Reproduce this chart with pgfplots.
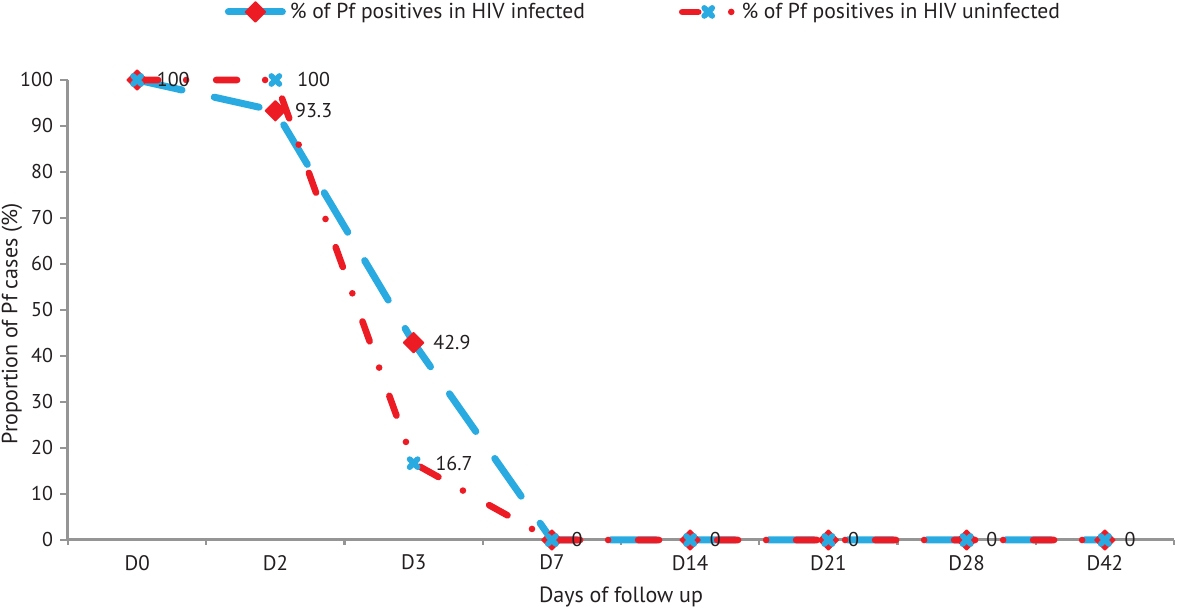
\documentclass[border=0pt]{standalone}
\usepackage{pgfplots}
\pgfplotsset{compat=1.18}
\usepackage{fontspec}
\setmainfont{PT Sans}

\definecolor{hivcyan}{HTML}{29ABE2}
\definecolor{hivred}{HTML}{ED1C24}
\definecolor{axgray}{HTML}{959595}
\definecolor{txt}{HTML}{231F20}

\newcommand{\chartfont}{\fontsize{10}{12}\selectfont}
\newcommand{\labelfont}{\fontsize{11}{13}\selectfont}
\newcommand{\legendfont}{\fontsize{10.8}{13}\selectfont}

% legend images: solid line for the first series, dash-dot for the second
\pgfplotsset{
  leg solid/.style={legend image code/.code={
      \draw[mark repeat=2, mark phase=2, ##1, solid]
        plot coordinates {(0pt,0pt) (13.5pt,0pt) (27pt,0pt)};}},
  leg dashed/.style={legend image code/.code={
      \draw[mark repeat=2, mark phase=2, ##1,
            dash pattern=on 8pt off 16.5pt on 0pt off 10pt]
        plot coordinates {(0pt,0pt) (13pt,0pt) (26pt,0pt)};}},
}

\begin{document}
\begin{tikzpicture}
\begin{axis}[
    at={(0pt,0pt)}, anchor=south west,
    scale only axis, width=553pt, height=230pt,
    xmin=-0.5, xmax=7.5, ymin=0, ymax=100,
    xtick={0,...,7},
    xticklabels={D0,D2,D3,D7,D14,D21,D28,D42},
    minor xtick={-0.5,0.5,...,7.5},
    ytick={0,10,...,100},
    axis x line*=bottom, axis y line*=left,
    xtick pos=bottom, ytick pos=left,
    tick align=outside,
    major tick length=4pt, minor tick length=2.5pt,
    major x tick style={draw=none},
    every tick/.append style={axgray, line width=1.2pt},
    axis line style={axgray, line width=1.5pt},
    clip=false,
    font=\chartfont,
    tick label style={text=txt, font=\chartfont},
    xticklabel style={font=\fontsize{10.5}{12}\selectfont},
    /pgf/number format/assume math mode=true,
    xlabel={Days of follow up},
    ylabel={Proportion of Pf cases (\%)},
    every axis x label/.style={at={(axis description cs:0.5,-0.124)}, anchor=center, text=txt, font=\labelfont},
    every axis y label/.style={at={(axis description cs:-0.0506,0.47)}, anchor=center, rotate=90, text=txt, font=\labelfont},
    point meta=explicit symbolic,
    nodes near coords={\pgfplotspointmeta},
    every node near coord/.append style={anchor=west, xshift=8.5pt, inner sep=1pt, text=txt, font=\chartfont},
    legend columns=2,
    legend style={at={(axis description cs:0.1415,1.148)}, anchor=west, draw=none, fill=none,
      inner sep=0pt, font=\legendfont, text=txt,
      cells={anchor=west, inner sep=1pt},
      /tikz/every even column/.append style={column sep=45pt}},
]
% HIV infected
\addplot[hivcyan, line width=3.5pt, line cap=round, line join=round,
    dash pattern=on 23pt off 16.5pt,
    mark=square*, mark size=3.5pt,
    mark options={solid, rotate=45, fill=hivred, draw=hivred, line width=0.8pt},
    leg solid]
  coordinates {(0,100) [100] (1,93.3) [93.3] (2,42.9) [42.9] (3,0) [0]
               (4,0) [0] (5,0) [0] (6,0) [0] (7,0) [0]};
\addlegendentry{\% of Pf positives in HIV infected}

% HIV uninfected
\addplot[hivred, line width=3.3pt, line cap=round, line join=round,
    dash pattern=on 10.5pt off 14pt on 0pt off 15pt,
    mark=x, mark size=2.8pt,
    mark options={solid, draw=hivcyan, line width=2.9pt},
    leg dashed]
  coordinates {(0,100) [] (1,100) [100] (2,16.7) [16.7] (3,0) []
               (4,0) [] (5,0) [] (6,0) [] (7,0) []};
\addlegendentry{\% of Pf positives in HIV uninfected}
\end{axis}
\pgfresetboundingbox
\useasboundingbox (-34pt,-35.5pt) rectangle (555.5pt,270pt);
\end{tikzpicture}
\end{document}
